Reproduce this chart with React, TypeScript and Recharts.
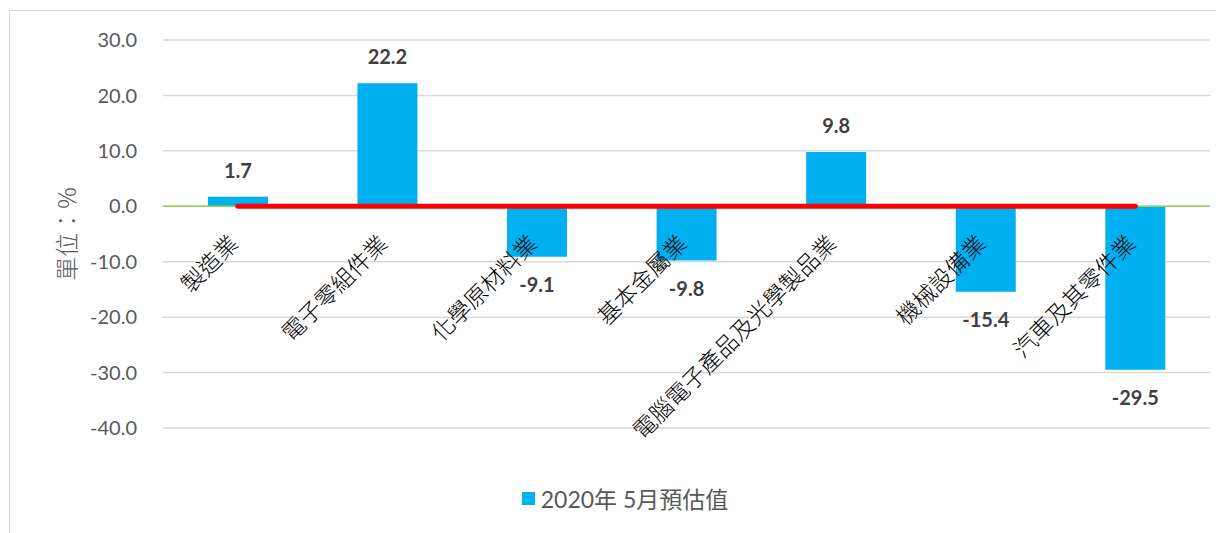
import {
  ComposedChart,
  Bar,
  Line,
  XAxis,
  YAxis,
  CartesianGrid,
  ReferenceLine,
  Legend,
  LabelList,
  Label,
} from "recharts";

const categories = [
  "製造業",
  "電子零組件業",
  "化學原材料業",
  "基本金屬業",
  "電腦電子產品及光學製品業",
  "機械設備業",
  "汽車及其零件業",
];
const estimates = [1.7, 22.2, -9.1, -9.8, 9.8, -15.4, -29.5];
const baseline = [0, 0, 0, 0, 0, 0, 0];
const yTicks = [-40, -30, -20, -10, 0, 10, 20, 30];
const seriesName = "2020年 5月預估值";

const data = categories.map((name, i) => ({
  name,
  value: estimates[i],
  zero: baseline[i],
}));

const NUM_FONT = "Lato, 'Noto Sans CJK TC', sans-serif";
const CJK_FONT = "'Noto Sans CJK TC', sans-serif";
const BLUE = "#00B0F0";

function ValueLabel(props: any) {
  const { x, y, width, height, value } = props;
  const top = Math.min(y, y + height);
  const bottom = Math.max(y, y + height);
  const cx = x + width / 2;
  const ty = value >= 0 ? top - 26 : bottom + 28;
  return (
    <text
      x={cx}
      y={ty}
      dy="0.35em"
      textAnchor="middle"
      fontFamily={NUM_FONT}
      fontWeight={700}
      fontSize={20}
      fill="#404040"
    >
      {value.toFixed(1)}
    </text>
  );
}

function CategoryLabel(props: any) {
  const { x, y, value } = props;
  const ax = x + 2;
  const ay = y + 39;
  return (
    <text
      x={ax}
      y={ay}
      textAnchor="end"
      transform={`rotate(-45, ${ax}, ${ay})`}
      fontFamily={CJK_FONT}
      fontWeight={300}
      fontSize={23}
      fill="#000"
    >
      {value}
    </text>
  );
}

function LegendBox() {
  return (
    <div
      style={{
        height: 30,
        display: "flex",
        alignItems: "center",
        justifyContent: "center",
        paddingLeft: 30,
        fontFamily: NUM_FONT,
        fontSize: 23,
        color: "#595959",
      }}
    >
      <span style={{ width: 13, height: 13, background: BLUE, marginRight: 6, display: "inline-block" }} />
      <span>{seriesName}</span>
    </div>
  );
}

export default function App() {
  return (
    <div
      style={{
        marginLeft: 1,
        marginTop: 2,
        width: 1230,
        height: 540,
        border: "1px solid #d9d9d9",
        overflow: "hidden",
      }}
    >
      <ComposedChart
        width={1230}
        height={530}
        data={data}
        margin={{ top: 29, right: 30, left: 0, bottom: 83 }}
        barCategoryGap="30%"
      >
        <CartesianGrid vertical={false} stroke="#d9d9d9" strokeWidth={1.5} />
        <XAxis dataKey="name" hide />
        <YAxis
          width={153}
          domain={[-40, 30]}
          ticks={yTicks}
          axisLine={false}
          tickLine={false}
          tickSize={0}
          tickMargin={26}
          tickFormatter={(v: number) => v.toFixed(1)}
          tick={{ fill: "#595959", fontSize: 20, fontFamily: NUM_FONT }}
        >
          <Label
            content={(p: any) => {
              const vb = p.viewBox || {};
              const cx = 58;
              const cy = (vb.y ?? 0) + (vb.height ?? 0) / 2;
              return (
                <text
                  x={cx}
                  y={cy}
                  dy="0.35em"
                  textAnchor="middle"
                  transform={`rotate(-90, ${cx}, ${cy})`}
                  fontFamily={CJK_FONT}
                  fontWeight={300}
                  fontSize={24}
                  fill="#595959"
                >
                  單位：%
                </text>
              );
            }}
          />
        </YAxis>
        <ReferenceLine y={0} stroke="#92D050" strokeWidth={1.5} />
        <Bar dataKey="value" name={seriesName} fill={BLUE} isAnimationActive={false}>
          <LabelList dataKey="value" content={ValueLabel} />
        </Bar>
        <Line
          dataKey="zero"
          stroke="#FF0000"
          strokeWidth={5}
          strokeLinecap="round"
          dot={false}
          activeDot={false}
          legendType="none"
          isAnimationActive={false}
        >
          <LabelList dataKey="name" content={CategoryLabel} />
        </Line>
        <Legend verticalAlign="bottom" align="center" content={LegendBox} wrapperStyle={{ bottom: 28 }} />
      </ComposedChart>
    </div>
  );
}
